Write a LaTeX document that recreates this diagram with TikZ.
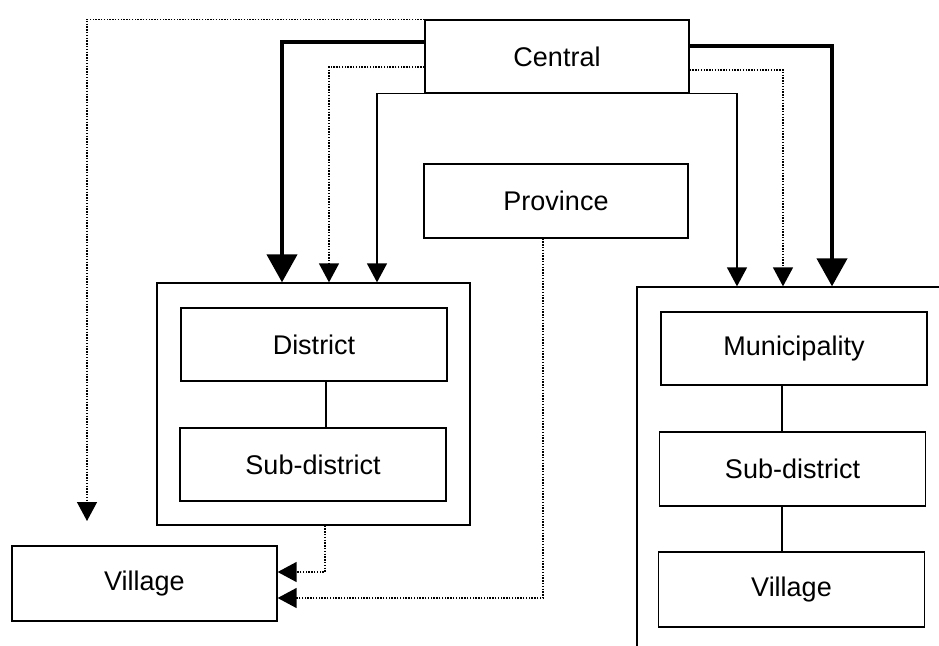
\documentclass[tikz,border=0pt]{standalone}
\usepackage{fontspec}
\setmainfont{Liberation Sans}
\usetikzlibrary{arrows.meta}
\begin{document}
\begin{tikzpicture}[x=1pt,y=-1pt,
  box/.style={draw,line width=1.3pt,rectangle,inner sep=0pt,font=\fontsize{27}{31}\selectfont},
  thickarrow/.style={line width=4.2pt,-{Triangle[width=30pt,length=28pt]}},
  thinarrow/.style={line width=1.4pt,-{Triangle[width=20pt,length=19pt]}},
  dotarrow/.style={line width=1.4pt,dash pattern=on 1.4pt off 1.4pt,-{Triangle[width=20pt,length=19pt]}},
  plain/.style={line width=1.3pt}]
\useasboundingbox (0,0) rectangle (939,645);
\begin{scope}
\clip (0,0) rectangle (939,645);
\node[box,minimum width=323pt,minimum height=383pt] (mcont) at (798.5,478.5) {};
\end{scope}
\node[box,minimum width=264pt,minimum height=73pt,fill=white] (central) at (557,56.5) {Central};
\node[box,minimum width=264pt,minimum height=74pt] (province) at (556,201) {Province};
\node[box,minimum width=313pt,minimum height=242pt] (distcont) at (313.5,404) {};
\node[box,minimum width=266pt,minimum height=73pt] (district) at (314,344.5) {District};
\node[box,minimum width=266pt,minimum height=73pt] (subd1) at (313,464.5) {Sub-district};
\node[box,minimum width=265pt,minimum height=75pt] (village1) at (144.5,583.5) {Village};
\node[box,minimum width=266pt,minimum height=73pt] (muni) at (794,348.5) {Municipality};
\node[box,minimum width=266pt,minimum height=74pt] (subd2) at (792.5,469) {Sub-district};
\node[box,minimum width=266pt,minimum height=75pt] (village2) at (791.5,589.5) {Village};
\coordinate (vtip) at (87,521);
% Central to district container
\draw[thickarrow] (central.west |- 0,42) -| (282,0 |- distcont.north);
\draw[dotarrow] (central.west |- 0,67) -| (329,0 |- distcont.north);
\draw[thinarrow] (central.south west) -| (377,0 |- distcont.north);
% Central to municipality container
\draw[thinarrow] (central.south east) -| (737,0 |- mcont.north);
\draw[dotarrow] (central.east |- 0,70) -| (783,0 |- mcont.north);
\draw[thickarrow] (central.east |- 0,46) -| (832,0 |- mcont.north);
% Central to village (outer dotted)
\draw[dotarrow] (central.north west) -| (vtip);
% to village
\draw[dotarrow] (325,0 |- distcont.south) |- (village1.east |- 0,572);
\draw[dotarrow] (543,0 |- province.south) |- (village1.east |- 0,598);
% inner connectors
\draw[plain] (326,0 |- district.south) -- (326,0 |- subd1.north);
\draw[plain] (782,0 |- muni.south) -- (782,0 |- subd2.north);
\draw[plain] (782,0 |- subd2.south) -- (782,0 |- village2.north);
\end{tikzpicture}
\end{document}
